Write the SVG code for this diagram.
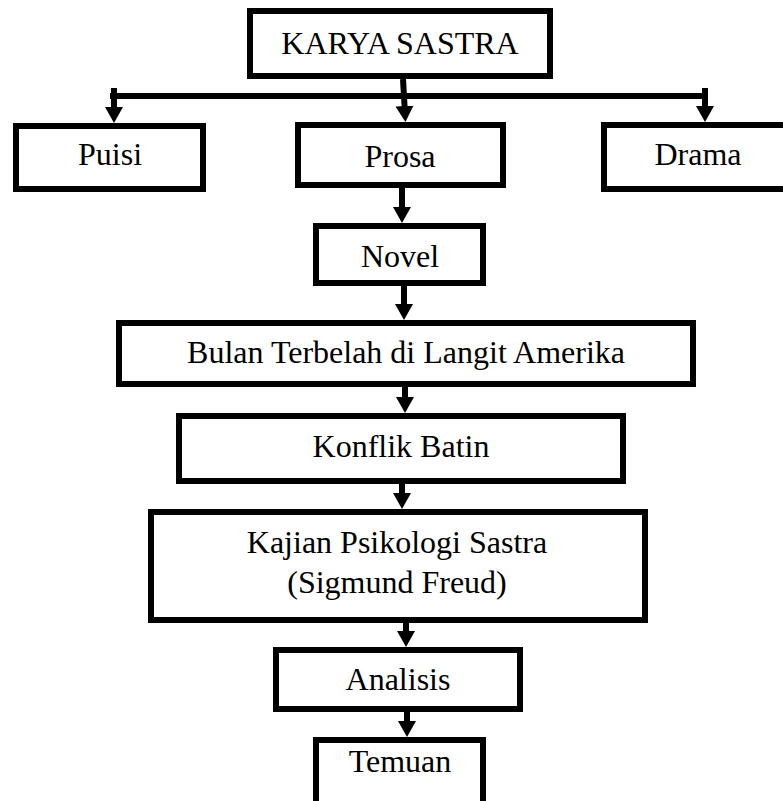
<svg xmlns="http://www.w3.org/2000/svg" width="783" height="801" viewBox="0 0 783 801">
  <style>
    .box { fill: #ffffff; stroke: #000000; stroke-width: 6; }
    .lbl { font-family: "Liberation Serif", "Times New Roman", serif; font-size: 32px; fill: #000000; text-anchor: middle; }
    .conn { stroke: #000000; stroke-width: 6; fill: none; }
  </style>
  <defs>
    <marker id="arrow" viewBox="0 0 16 18" refX="8" refY="9" markerWidth="16" markerHeight="18" markerUnits="userSpaceOnUse" orient="auto">
      <path d="M0,0 L16,9 L0,18 z" fill="#000000"/>
    </marker>
  </defs>
  <rect x="0" y="0" width="783" height="801" fill="#ffffff"/>

  <g id="connectors">
    <line class="conn" x1="110" y1="96" x2="708" y2="96"/>
    <line class="conn" x1="403" y1="79" x2="405" y2="114" marker-end="url(#arrow)"/>
    <line class="conn" x1="114" y1="88" x2="114" y2="115" marker-end="url(#arrow)"/>
    <line class="conn" x1="705" y1="88" x2="705" y2="114" marker-end="url(#arrow)"/>
    <line class="conn" x1="402" y1="188" x2="402" y2="215" marker-end="url(#arrow)"/>
    <line class="conn" x1="404" y1="286" x2="404" y2="312" marker-end="url(#arrow)"/>
    <line class="conn" x1="405" y1="387" x2="405" y2="405" marker-end="url(#arrow)"/>
    <line class="conn" x1="402" y1="484" x2="402" y2="501" marker-end="url(#arrow)"/>
    <line class="conn" x1="406" y1="623" x2="406" y2="639" marker-end="url(#arrow)"/>
    <line class="conn" x1="407" y1="712" x2="407" y2="729" marker-end="url(#arrow)"/>
  </g>

  <g id="karya-sastra">
    <rect class="box" x="250" y="11" width="300" height="65"/>
    <text class="lbl" x="400" y="54">KARYA SASTRA</text>
  </g>
  <g id="puisi">
    <rect class="box" x="16" y="126" width="187" height="63"/>
    <text class="lbl" x="110" y="165">Puisi</text>
  </g>
  <g id="prosa">
    <rect class="box" x="298" y="125" width="205" height="60"/>
    <text class="lbl" x="400" y="167">Prosa</text>
  </g>
  <g id="drama">
    <rect class="box" x="604" y="125" width="188" height="64"/>
    <text class="lbl" x="698" y="165">Drama</text>
  </g>
  <g id="novel">
    <rect class="box" x="316" y="226" width="167" height="57"/>
    <text class="lbl" x="400" y="267">Novel</text>
  </g>
  <g id="bulan-terbelah">
    <rect class="box" x="119" y="323" width="574" height="61"/>
    <text class="lbl" x="406" y="363">Bulan Terbelah di Langit Amerika</text>
  </g>
  <g id="konflik-batin">
    <rect class="box" x="179" y="416" width="444" height="65"/>
    <text class="lbl" x="401" y="457">Konflik Batin</text>
  </g>
  <g id="kajian-psikologi">
    <rect class="box" x="151" y="512" width="494" height="108"/>
    <text class="lbl" x="397" y="553">Kajian Psikologi Sastra</text>
    <text class="lbl" x="397" y="593">(Sigmund Freud)</text>
  </g>
  <g id="analisis">
    <rect class="box" x="276" y="650" width="244" height="59"/>
    <text class="lbl" x="398" y="690">Analisis</text>
  </g>
  <g id="temuan">
    <rect class="box" x="316" y="740" width="167" height="80"/>
    <text class="lbl" x="400" y="772">Temuan</text>
  </g>
</svg>
